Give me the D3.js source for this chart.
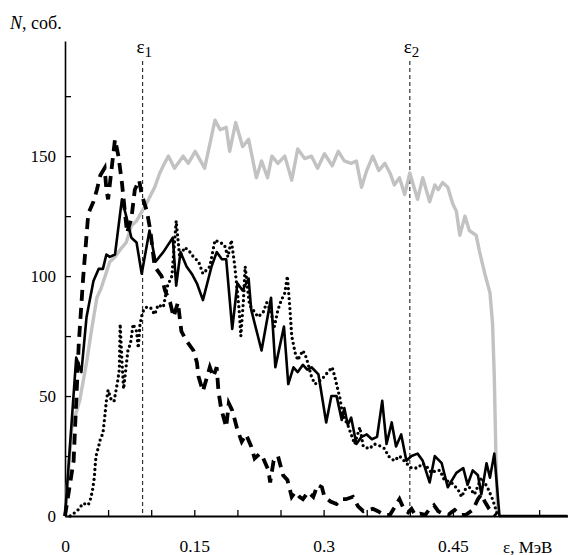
<!DOCTYPE html>
<html>
<head>
<meta charset="utf-8">
<script src="https://d3js.org/d3.v7.min.js"></script>
<style>
  body { margin: 0; background: #fff; }
  text { font-family: "Liberation Serif", "Times New Roman", serif; fill: #000; }
</style>
</head>
<body>
<svg id="chart" width="568" height="555"></svg>
<script>

// Step-1 : chart values //

var xTicks = [0, 0.05, 0.1, 0.15, 0.2, 0.25, 0.3, 0.35, 0.4, 0.45, 0.5, 0.55];
var xLabels = { "0": "0", "0.15": "0.15", "0.3": "0.3", "0.45": "0.45" };
var yTicks = [0, 25, 50, 75, 100, 125, 150, 175];
var yLabels = [0, 50, 100, 150];

var eps1 = 0.09;
var eps2 = 0.4;

// gray curve [energy, counts]
var grayData = [
  [0, 0], [0.008, 37], [0.017, 48], [0.025, 64], [0.031, 78], [0.037, 91], [0.042, 95],
  [0.052, 106], [0.058, 108], [0.064, 111], [0.071, 114], [0.077, 121], [0.083, 123],
  [0.091, 128], [0.097, 132], [0.104, 137], [0.110, 143], [0.114, 146], [0.120, 150],
  [0.127, 145], [0.137, 150], [0.143, 147], [0.151, 152], [0.162, 145], [0.174, 165],
  [0.180, 161], [0.187, 162], [0.191, 152], [0.198, 164], [0.206, 154], [0.213, 157],
  [0.222, 141], [0.228, 148], [0.235, 141], [0.240, 150], [0.247, 147], [0.255, 150],
  [0.263, 140], [0.270, 153], [0.278, 149], [0.286, 150], [0.293, 145], [0.301, 151],
  [0.310, 146], [0.317, 152], [0.324, 148], [0.332, 147], [0.338, 148], [0.344, 137],
  [0.350, 144], [0.357, 150], [0.364, 144], [0.371, 147], [0.377, 143], [0.382, 138],
  [0.388, 141], [0.394, 134], [0.400, 143], [0.409, 132], [0.415, 141], [0.423, 131],
  [0.429, 138], [0.433, 136], [0.438, 139], [0.444, 137], [0.450, 130], [0.454, 127],
  [0.458, 117], [0.464, 125], [0.469, 119], [0.477, 117], [0.481, 110], [0.487, 101],
  [0.493, 93], [0.496, 80], [0.498, 58], [0.500, 23], [0.502, 0]
];

// solid black curve
var solidData = [
  [0, 0], [0.013, 66], [0.019, 60], [0.025, 83], [0.033, 98], [0.039, 103], [0.044, 103],
  [0.048, 109], [0.052, 108], [0.058, 109], [0.066, 132], [0.071, 125], [0.077, 116],
  [0.083, 114], [0.089, 101], [0.098, 119], [0.105, 106], [0.114, 110], [0.125, 116],
  [0.129, 96], [0.134, 110], [0.141, 104], [0.147, 101], [0.153, 97], [0.160, 90],
  [0.170, 104], [0.176, 110], [0.182, 107], [0.187, 107], [0.194, 78], [0.200, 97],
  [0.206, 94], [0.213, 99], [0.216, 86], [0.228, 69], [0.239, 91], [0.244, 62],
  [0.254, 79], [0.259, 55], [0.265, 62], [0.270, 60], [0.276, 63], [0.281, 61],
  [0.286, 62], [0.294, 59], [0.303, 39], [0.309, 50], [0.315, 50], [0.321, 40],
  [0.324, 45], [0.328, 38], [0.332, 41], [0.338, 30], [0.344, 33], [0.350, 34],
  [0.356, 32], [0.362, 33], [0.368, 48], [0.373, 30], [0.379, 39], [0.384, 29],
  [0.390, 34], [0.396, 23], [0.402, 25], [0.409, 26], [0.415, 23], [0.423, 14],
  [0.429, 25], [0.437, 22], [0.444, 12], [0.454, 18], [0.462, 20], [0.467, 13],
  [0.473, 19], [0.479, 17], [0.483, 9], [0.489, 22], [0.493, 16], [0.498, 26],
  [0.504, 0], [0.583, 0]
];

// dashed black curve
var dashedData = [
  [0, 0], [0.010, 23], [0.016, 72], [0.021, 99], [0.027, 126], [0.033, 131], [0.037, 136],
  [0.041, 142], [0.046, 145], [0.048, 136], [0.050, 132], [0.058, 157], [0.062, 150],
  [0.066, 139], [0.072, 118], [0.077, 124], [0.081, 136], [0.086, 140], [0.089, 134],
  [0.095, 127], [0.099, 119], [0.104, 104], [0.112, 100], [0.116, 94], [0.122, 89],
  [0.126, 83], [0.131, 89], [0.135, 77], [0.141, 73], [0.149, 69], [0.153, 64],
  [0.155, 58], [0.160, 52], [0.164, 57], [0.168, 62], [0.172, 58], [0.176, 62],
  [0.178, 52], [0.181, 45], [0.187, 37], [0.190, 47], [0.194, 44], [0.200, 36],
  [0.205, 31], [0.210, 34], [0.216, 29], [0.220, 24], [0.226, 26], [0.230, 24],
  [0.236, 19], [0.238, 14], [0.242, 23], [0.247, 25], [0.253, 17], [0.258, 15],
  [0.263, 8], [0.267, 10], [0.272, 8], [0.276, 7], [0.282, 10], [0.288, 8],
  [0.293, 13], [0.298, 12], [0.301, 8], [0.308, 6], [0.315, 5], [0.320, 7],
  [0.326, 7], [0.334, 8], [0.340, 4], [0.346, 2], [0.352, 2.5], [0.357, 3],
  [0.363, 2], [0.370, 0.5], [0.377, 0.5], [0.383, 4], [0.388, 7], [0.393, 3],
  [0.398, 1.5], [0.402, 3], [0.406, 0.5], [0.412, 1], [0.418, 0.5], [0.423, 3],
  [0.428, 4.5], [0.433, 2], [0.438, 1], [0.445, 0.5], [0.448, 1.5], [0.452, 2.5],
  [0.458, 0.5], [0.465, 0.5], [0.473, 2.5], [0.479, 7], [0.483, 9], [0.487, 6],
  [0.492, 3], [0.497, 1], [0.500, 0]
];

// dotted black curve
var dottedData = [
  [0.006, 0], [0.010, 1], [0.015, 2.5], [0.021, 5.3], [0.027, 4.6], [0.030, 7.5],
  [0.032, 11], [0.034, 16], [0.035, 21], [0.036, 25], [0.039, 29], [0.041, 32],
  [0.044, 34.5], [0.046, 41], [0.048, 48], [0.050, 52.5], [0.054, 48], [0.057, 48],
  [0.059, 52], [0.061, 56], [0.063, 61], [0.064, 80], [0.066, 65], [0.068, 53],
  [0.073, 69], [0.076, 72], [0.079, 80], [0.083, 77], [0.085, 70], [0.087, 80],
  [0.090, 85], [0.094, 87], [0.099, 87], [0.104, 84], [0.108, 88], [0.114, 87],
  [0.119, 96], [0.124, 100], [0.129, 123], [0.133, 108], [0.139, 112], [0.145, 110],
  [0.149, 108], [0.155, 106], [0.160, 101], [0.168, 104], [0.174, 115], [0.180, 114],
  [0.185, 113], [0.189, 108], [0.193, 115], [0.197, 104], [0.202, 86], [0.204, 75],
  [0.207, 90], [0.209, 104], [0.214, 88], [0.224, 83], [0.230, 85], [0.234, 89],
  [0.238, 86], [0.243, 79], [0.247, 86], [0.251, 90], [0.255, 93], [0.258, 100],
  [0.261, 86], [0.263, 75], [0.267, 68], [0.270, 65], [0.276, 69], [0.280, 66],
  [0.286, 58], [0.290, 55], [0.298, 57], [0.305, 60], [0.310, 62], [0.313, 58],
  [0.319, 49], [0.322, 42], [0.328, 38], [0.336, 30], [0.342, 37], [0.346, 29],
  [0.353, 28], [0.359, 30], [0.367, 29], [0.371, 28], [0.375, 25], [0.382, 23],
  [0.388, 25], [0.396, 22], [0.402, 20], [0.409, 20], [0.415, 22], [0.421, 20],
  [0.425, 18], [0.431, 19], [0.435, 19], [0.440, 15], [0.448, 14], [0.456, 11],
  [0.460, 8], [0.464, 11], [0.469, 12], [0.475, 9], [0.483, 16], [0.490, 12],
  [0.496, 7], [0.500, 2.5], [0.502, 0]
];


// Step-2 : scales and axes //

var svg = d3.select("#chart");

var x = d3.scaleLinear().domain([0, 0.5835]).range([65, 568]);
var y = d3.scaleLinear().domain([0, 198]).range([516, 41]);

var line = d3.line()
  .x(d => x(d[0]))
  .y(d => y(d[1]));

// x axis, ticks pointing up into the plot
var xAxis = svg.append("g")
  .attr("transform", `translate(0,${y(0)})`)
  .call(d3.axisBottom(x)
    .tickValues(xTicks)
    .tickSizeInner(-6)
    .tickSizeOuter(0)
    .tickPadding(24)
    .tickFormat(d => xLabels[String(+d.toFixed(2))] || ""));

xAxis.select(".domain").attr("stroke", "#000").attr("stroke-width", 2);
xAxis.selectAll(".tick line").attr("stroke-width", 1.3);
xAxis.selectAll("text").style("font-size", "17.5px");

// y axis, ticks pointing right
var yAxis = svg.append("g")
  .attr("transform", `translate(${x(0)},0)`)
  .call(d3.axisLeft(y)
    .tickValues(yTicks)
    .tickSizeInner(-6)
    .tickSizeOuter(0)
    .tickPadding(9)
    .tickFormat(d => yLabels.indexOf(d) >= 0 ? d : ""));

yAxis.select(".domain").attr("stroke", "#000").attr("stroke-width", 1.6);
yAxis.selectAll(".tick line").attr("stroke-width", 1.3);
yAxis.selectAll("text").style("font-size", "17px");


// Step-3 : epsilon markers //

[[eps1, "1"], [eps2, "2"]].forEach(function (e) {
  svg.append("line")
    .attr("x1", x(e[0])).attr("x2", x(e[0]))
    .attr("y1", 61).attr("y2", y(0))
    .attr("stroke", "#333")
    .attr("stroke-width", 1.2)
    .attr("stroke-dasharray", "4,3");

  var t = svg.append("text")
    .attr("x", x(e[0]) - 6)
    .attr("y", 53)
    .style("font-size", "19px");
  t.append("tspan").text("ε");
  t.append("tspan").attr("dy", 4).style("font-size", "15px").text(e[1]);
});


// Step-4 : curves //

svg.append("path")
  .datum(grayData)
  .attr("d", line)
  .attr("fill", "none")
  .attr("stroke", "#c2c2c2")
  .attr("stroke-width", 3.4)
  .attr("stroke-linejoin", "round");

svg.append("path")
  .datum(dottedData)
  .attr("d", line)
  .attr("fill", "none")
  .attr("stroke", "#000")
  .attr("stroke-width", 3.3)
  .attr("stroke-linecap", "round")
  .attr("stroke-dasharray", "0,5");

svg.append("path")
  .datum(dashedData)
  .attr("d", line)
  .attr("fill", "none")
  .attr("stroke", "#000")
  .attr("stroke-width", 3.8)
  .attr("stroke-dasharray", "11,7");

svg.append("path")
  .datum(solidData)
  .attr("d", line)
  .attr("fill", "none")
  .attr("stroke", "#000")
  .attr("stroke-width", 2.6)
  .attr("stroke-linejoin", "round");


// Step-5 : axis titles //

var yTitle = svg.append("text")
  .attr("x", 10)
  .attr("y", 29)
  .style("font-size", "18px");
yTitle.append("tspan").style("font-style", "italic").text("N");
yTitle.append("tspan").text(", соб.");

svg.append("text")
  .attr("x", 503)
  .attr("y", 553)
  .style("font-size", "17px")
  .text("ε, МэВ");

</script>
</body>
</html>
